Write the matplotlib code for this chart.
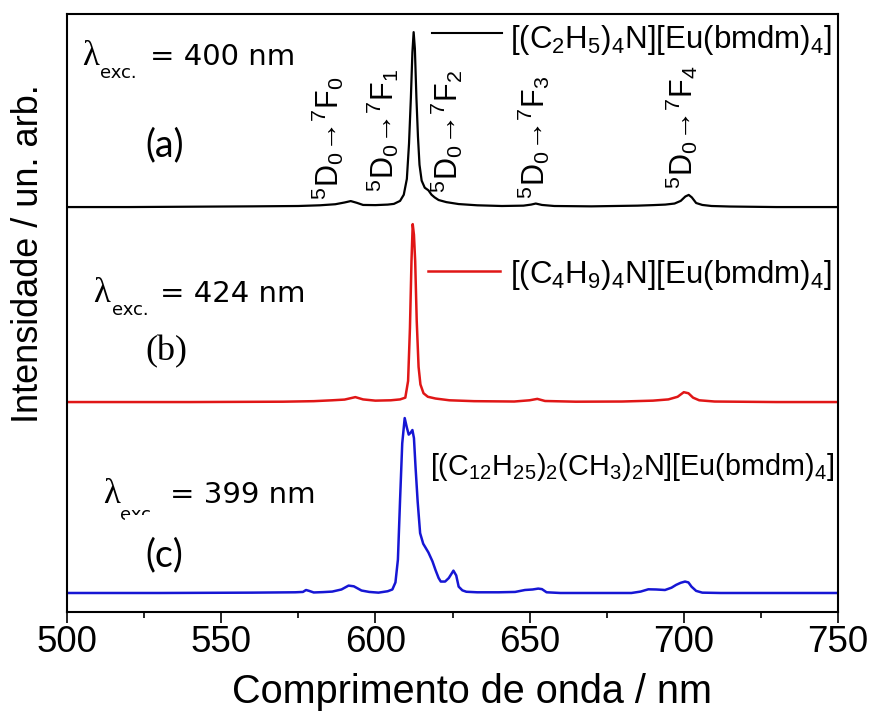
import matplotlib
matplotlib.use("Agg")
import matplotlib.pyplot as plt
from matplotlib.lines import Line2D
from matplotlib.patches import Rectangle
from matplotlib.ticker import MultipleLocator

# ---- emission spectra (wavelength / nm, intensity in stacked units) ----
wl_a = [500, 520, 540, 560, 575, 582, 587, 590, 592, 594,
        596, 600, 604, 606, 608, 609.2, 610.2, 610.9, 611.5, 612.0,
        612.4, 612.8, 613.3, 613.8, 614.3, 615.0, 616.0, 617.2, 618.2, 619.2,
        620.5, 623, 627, 633, 641, 648, 650.5, 652, 654, 658,
        670, 685, 690, 694, 697, 699, 700.5, 701.6, 702.6, 704,
        706, 709, 715, 730, 750]
int_a = [0.0, 0.0, 0.002, 0.004, 0.006, 0.01, 0.016, 0.026, 0.034, 0.024,
         0.012, 0.011, 0.014, 0.018, 0.035, 0.07, 0.16, 0.36, 0.62, 0.88,
         0.994, 0.9, 0.62, 0.4, 0.24, 0.15, 0.11, 0.095, 0.07, 0.055,
         0.04, 0.028, 0.017, 0.01, 0.006, 0.008, 0.014, 0.02, 0.012, 0.006,
         0.004, 0.008, 0.011, 0.014, 0.02, 0.035, 0.06, 0.069, 0.055, 0.023,
         0.012, 0.006, 0.003, 0.0, 0.0]

wl_b = [500, 540, 570, 580, 586, 590, 593.5, 596, 600, 605,
        608, 609.7, 610.6, 611.2, 611.7, 612.1, 612.5, 612.9, 613.4, 614.0,
        614.6, 615.6, 617, 619.5, 624, 632, 645, 650, 652.5, 655,
        665, 680, 690, 695, 698, 700, 701.5, 703, 705, 710,
        730, 750]
int_b = [0.0, 0.0, 0.002, 0.005, 0.01, 0.014, 0.028, 0.015, 0.008, 0.01,
         0.015, 0.025, 0.12, 0.42, 0.8, 1.011, 0.95, 0.8, 0.46, 0.2,
         0.1, 0.05, 0.03, 0.02, 0.01, 0.005, 0.003, 0.01, 0.018, 0.006,
         0.002, 0.003, 0.008, 0.015, 0.03, 0.056, 0.05, 0.025, 0.01, 0.003,
         0.0, 0.0]

wl_c = [500, 530, 560, 574, 576.5, 577.5, 578.5, 580, 583, 586,
        589, 591.3, 593, 595.5, 598, 601, 604, 605.5, 606.5, 607.3,
        608.0, 608.7, 609.5, 610.2, 610.8, 611.4, 612.0, 612.5, 613.0, 613.7,
        614.5, 615.5, 617.2, 618.5, 619.5, 620.5, 621.2, 622.6, 623.8, 625.3,
        626.2, 627.0, 628.2, 629.5, 633, 640, 645.3, 648.5, 651, 652.8,
        654, 655.5, 660, 670, 683, 686, 688.5, 691, 693.9, 696,
        697.5, 699, 700.4, 701.5, 702.5, 704, 706, 712, 730, 750]
int_c = [0.0, 0.0, 0.002, 0.004, 0.006, 0.017, 0.012, 0.003, 0.005, 0.008,
         0.02, 0.042, 0.038, 0.014, 0.006, 0.002, 0.01, 0.02, 0.06, 0.19,
         0.53, 0.85, 0.994, 0.94, 0.9, 0.91, 0.926, 0.88, 0.72, 0.52,
         0.34, 0.28, 0.23, 0.18, 0.13, 0.085, 0.065, 0.065, 0.085, 0.127,
         0.1, 0.036, 0.015, 0.007, 0.004, 0.004, 0.006, 0.017, 0.02, 0.025,
         0.022, 0.004, 0.0, 0.0, 0.0, 0.008, 0.021, 0.02, 0.017, 0.03,
         0.046, 0.058, 0.065, 0.06, 0.036, 0.012, 0.002, 0.0, 0.0, 0.0]

# vertical offsets of the stacked traces
offset_a = 2.193
offset_b = 1.085
offset_c = 0.0

compounds = [r'[(C$_2$H$_5$)$_4$N][Eu(bmdm)$_4$]',
             r'[(C$_4$H$_9$)$_4$N][Eu(bmdm)$_4$]',
             r'[(C$_{12}$H$_{25}$)$_2$(CH$_3$)$_2$N][Eu(bmdm)$_4$]']
excitation = ['400', '424', '399']
panel_tags = ['(a)', '(b)', '(c)']
final_states = ['0', '1', '2', '3', '4']

xticks_major = [500, 550, 600, 650, 700, 750]

plt.rcParams['mathtext.fontset'] = 'custom'
plt.rcParams['mathtext.rm'] = 'Liberation Sans'
plt.rcParams['mathtext.it'] = 'Liberation Sans:italic'
plt.rcParams['mathtext.bf'] = 'Liberation Sans:bold'
plt.rcParams['font.family'] = ['Liberation Sans', 'DejaVu Sans']

W, H = 870, 711
fig = plt.figure(figsize=(W / 100, H / 100), dpi=100)
L, R, T, B = 67, 838, 14, 612
ax = fig.add_axes([L / W, 1 - B / H, (R - L) / W, (B - T) / H])


def fpos(x, y):
    """pixel position -> figure fraction"""
    return x / W, 1 - y / H


red = '#e01616'
blue = '#1616d4'
ax.plot(wl_a, [v + offset_a for v in int_a], color='black', lw=1.6, zorder=2)
ax.plot(wl_b, [v + offset_b for v in int_b], color=red, lw=1.8, zorder=2)
ax.plot(wl_c, [v + offset_c for v in int_c], color=blue, lw=1.8, zorder=2)

ax.set_xlim(500, 750)
ax.set_ylim(-0.108, 3.29)
ax.set_xticks(xticks_major)
ax.xaxis.set_minor_locator(MultipleLocator(25))
ax.set_yticks([])
ax.tick_params(axis='x', which='major', direction='out', length=8, width=1.2,
               labelsize=26.5, pad=1.5)
ax.tick_params(axis='x', which='minor', direction='out', length=4.5, width=1.2)
for sp in ax.spines.values():
    sp.set_linewidth(1.5)

ax.set_xlabel('Comprimento de onda / nm', fontsize=28.5, va='baseline')
ax.xaxis.set_label_coords((472 - L) / (R - L), (B - 703) / (B - T))
ax.set_ylabel('Intensidade / un. arb.', fontsize=26, va='center', ha='center')
ax.yaxis.set_label_coords((29 - L) / (R - L), (B - 254) / (B - T))

# 5D0 -> 7FJ transition labels
trans_x = [584.5, 602.3, 623.0, 651.2, 699.5]
trans_y = [2.585, 2.63, 2.625, 2.59, 2.648]
for xl, yl, j in zip(trans_x, trans_y, final_states):
    ax.text(xl, yl, r'$^{5}$D$_{0}$→$^{7}$F$_{' + j + '}$', rotation=90,
            ha='center', va='center', fontsize=22, zorder=3)

# excitation wavelength annotations
lam_pos = [(82, 65), (93, 302), (103, 503)]
sub_pos = [(100, 78), (112, 315), (120, 520)]
eq_pos = [(150, 65), (160, 302), (170, 503)]
for (lx, ly), (sx, sy), (ex, ey), nm in zip(lam_pos, sub_pos, eq_pos, excitation):
    ax.text(*fpos(lx, ly), 'λ', transform=fig.transFigure, family='Liberation Serif',
            fontsize=25, va='baseline', ha='left', zorder=1)
    ax.text(*fpos(sx, sy), 'exc.', transform=fig.transFigure, family='DejaVu Sans',
            fontsize=13, va='baseline', ha='left', zorder=1)
    ax.text(*fpos(ex, ey), '= ' + nm + ' nm', transform=fig.transFigure,
            family='DejaVu Sans', fontsize=21, va='baseline', ha='left', zorder=1)

# panel tags
ax.text(*fpos(145, 145), panel_tags[0], transform=fig.transFigure, family='Lato',
        fontsize=27, va='center', ha='left')
ax.text(*fpos(145, 352), panel_tags[1], transform=fig.transFigure,
        family='Liberation Serif', fontsize=26, va='center', ha='left')
fig.add_artist(Rectangle(fpos(125, 590), 98 / W, 75 / H, transform=fig.transFigure,
                         facecolor='white', edgecolor='none', zorder=0.5))
fig.text(*fpos(145, 555), panel_tags[2], family='Lato', fontsize=27,
         va='center', ha='left', zorder=3)

# sample keys
fig.add_artist(Line2D([432 / W, 502 / W], [1 - 33 / H] * 2, color='black', lw=1.5))
fig.add_artist(Line2D([428 / W, 500 / W], [1 - 271 / H] * 2, color=red, lw=1.8))
ax.text(*fpos(510, 48), compounds[0], transform=fig.transFigure, fontsize=22.5,
        va='baseline', ha='left')
ax.text(*fpos(510, 283), compounds[1], transform=fig.transFigure, fontsize=22.5,
        va='baseline', ha='left')
ax.text(*fpos(430, 475), compounds[2], transform=fig.transFigure, fontsize=20.7,
        va='baseline', ha='left')

fig.savefig('out.png', dpi=100)
